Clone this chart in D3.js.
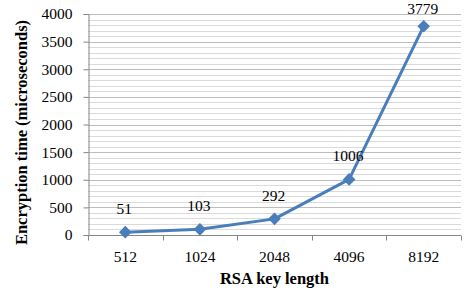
<!DOCTYPE html>
<html>
<head>
<meta charset="utf-8">
<script src="https://cdn.jsdelivr.net/npm/d3@7"></script>
<style>
  html, body { margin: 0; padding: 0; background: #fff; }
  svg text { font-family: "Liberation Serif", "DejaVu Serif", serif; fill: #000; }
</style>
</head>
<body>
<svg id="chart"></svg>
<script>
// data
const keyLengths = ['512', '1024', '2048', '4096', '8192'];
const encTimes = [51, 103, 292, 1006, 3779];
const yTicks = [0, 500, 1000, 1500, 2000, 2500, 3000, 3500, 4000];

const W = 474, H = 302;
const M = { left: 88, right: 13, top: 14, bottom: 67 };
const FONT = '"Liberation Serif", "DejaVu Serif", serif';

const svg = d3.select('#chart')
  .attr('width', W).attr('height', H);

const x = d3.scaleBand()
  .domain(keyLengths)
  .range([M.left, W - M.right]);

const y = d3.scaleLinear()
  .domain([0, 4000])
  .range([H - M.bottom, M.top]);

// gridlines: minor every 100, major every 500
const minor = d3.range(0, 4001, 100).filter(v => v % 500 !== 0);
svg.append('g').selectAll('line').data(minor).join('line')
  .attr('x1', M.left).attr('x2', W - M.right)
  .attr('y1', d => Math.round(y(d)) + 0.5).attr('y2', d => Math.round(y(d)) + 0.5)
  .attr('stroke', '#dadada').attr('stroke-width', 1);
svg.append('g').selectAll('line').data(yTicks.filter(v => v > 0)).join('line')
  .attr('x1', M.left).attr('x2', W - M.right)
  .attr('y1', d => Math.round(y(d)) + 0.5).attr('y2', d => Math.round(y(d)) + 0.5)
  .attr('stroke', '#bdbdbd').attr('stroke-width', 1);

// y axis
const yAxis = svg.append('g')
  .attr('transform', `translate(${M.left + 0.5},0)`)
  .call(d3.axisLeft(y).tickValues(yTicks).tickSize(5).tickPadding(11)
    .tickFormat(d3.format('d')))
  .attr('font-family', FONT);
yAxis.select('.domain').attr('stroke', '#868686');
yAxis.selectAll('.tick line').attr('stroke', '#868686');
yAxis.selectAll('text')
  .attr('font-size', 15.5)
  .attr('fill', '#000');

// x axis with ticks at category boundaries
const xAxisG = svg.append('g')
  .attr('transform', `translate(0,${y(0) + 0.5})`);
xAxisG.append('line')
  .attr('x1', M.left).attr('x2', W - M.right)
  .attr('stroke', '#868686');
const bounds = keyLengths.map(k => x(k)).concat([x(keyLengths[keyLengths.length - 1]) + x.bandwidth()]);
xAxisG.selectAll('.bt').data(bounds).join('line')
  .attr('class', 'bt')
  .attr('x1', d => Math.round(d) + 0.5).attr('x2', d => Math.round(d) + 0.5)
  .attr('y1', 0).attr('y2', 5)
  .attr('stroke', '#868686');
xAxisG.selectAll('.lbl').data(keyLengths).join('text')
  .attr('class', 'lbl')
  .attr('x', d => x(d) + x.bandwidth() / 2)
  .attr('y', 26)
  .attr('text-anchor', 'middle')
  .attr('font-size', 15.5)
  .text(d => d);

// line + markers
const pts = keyLengths.map((k, i) => ({ k, v: encTimes[i] }));
const line = d3.line()
  .x(d => x(d.k) + x.bandwidth() / 2)
  .y(d => y(d.v));
svg.append('path')
  .datum(pts)
  .attr('d', line)
  .attr('fill', 'none')
  .attr('stroke', '#4a7ebb')
  .attr('stroke-width', 3)
  .attr('stroke-linejoin', 'round');

svg.append('g').selectAll('path').data(pts).join('path')
  .attr('d', d3.symbol(d3.symbolSquare, 80))
  .attr('transform', d => `translate(${x(d.k) + x.bandwidth() / 2},${y(d.v)}) rotate(45)`)
  .attr('fill', '#4a7ebb');

// data labels
svg.append('g').selectAll('text').data(pts).join('text')
  .attr('x', d => x(d.k) + x.bandwidth() / 2 - 1)
  .attr('y', d => Math.max(y(d.v) - 18, 14))
  .attr('text-anchor', 'middle')
  .attr('font-size', 15.5)
  .text(d => d.v);

// axis titles
svg.append('text')
  .attr('transform', `translate(27,${(M.top + y(0)) / 2 + 8}) rotate(-90)`)
  .attr('text-anchor', 'middle')
  .attr('font-size', 16.5)
  .attr('font-weight', 'bold')
  .text('Encryption time (microseconds)');

svg.append('text')
  .attr('x', (M.left + W - M.right) / 2)
  .attr('y', 284)
  .attr('text-anchor', 'middle')
  .attr('font-size', 16.5)
  .attr('font-weight', 'bold')
  .text('RSA key length');
</script>
</body>
</html>
